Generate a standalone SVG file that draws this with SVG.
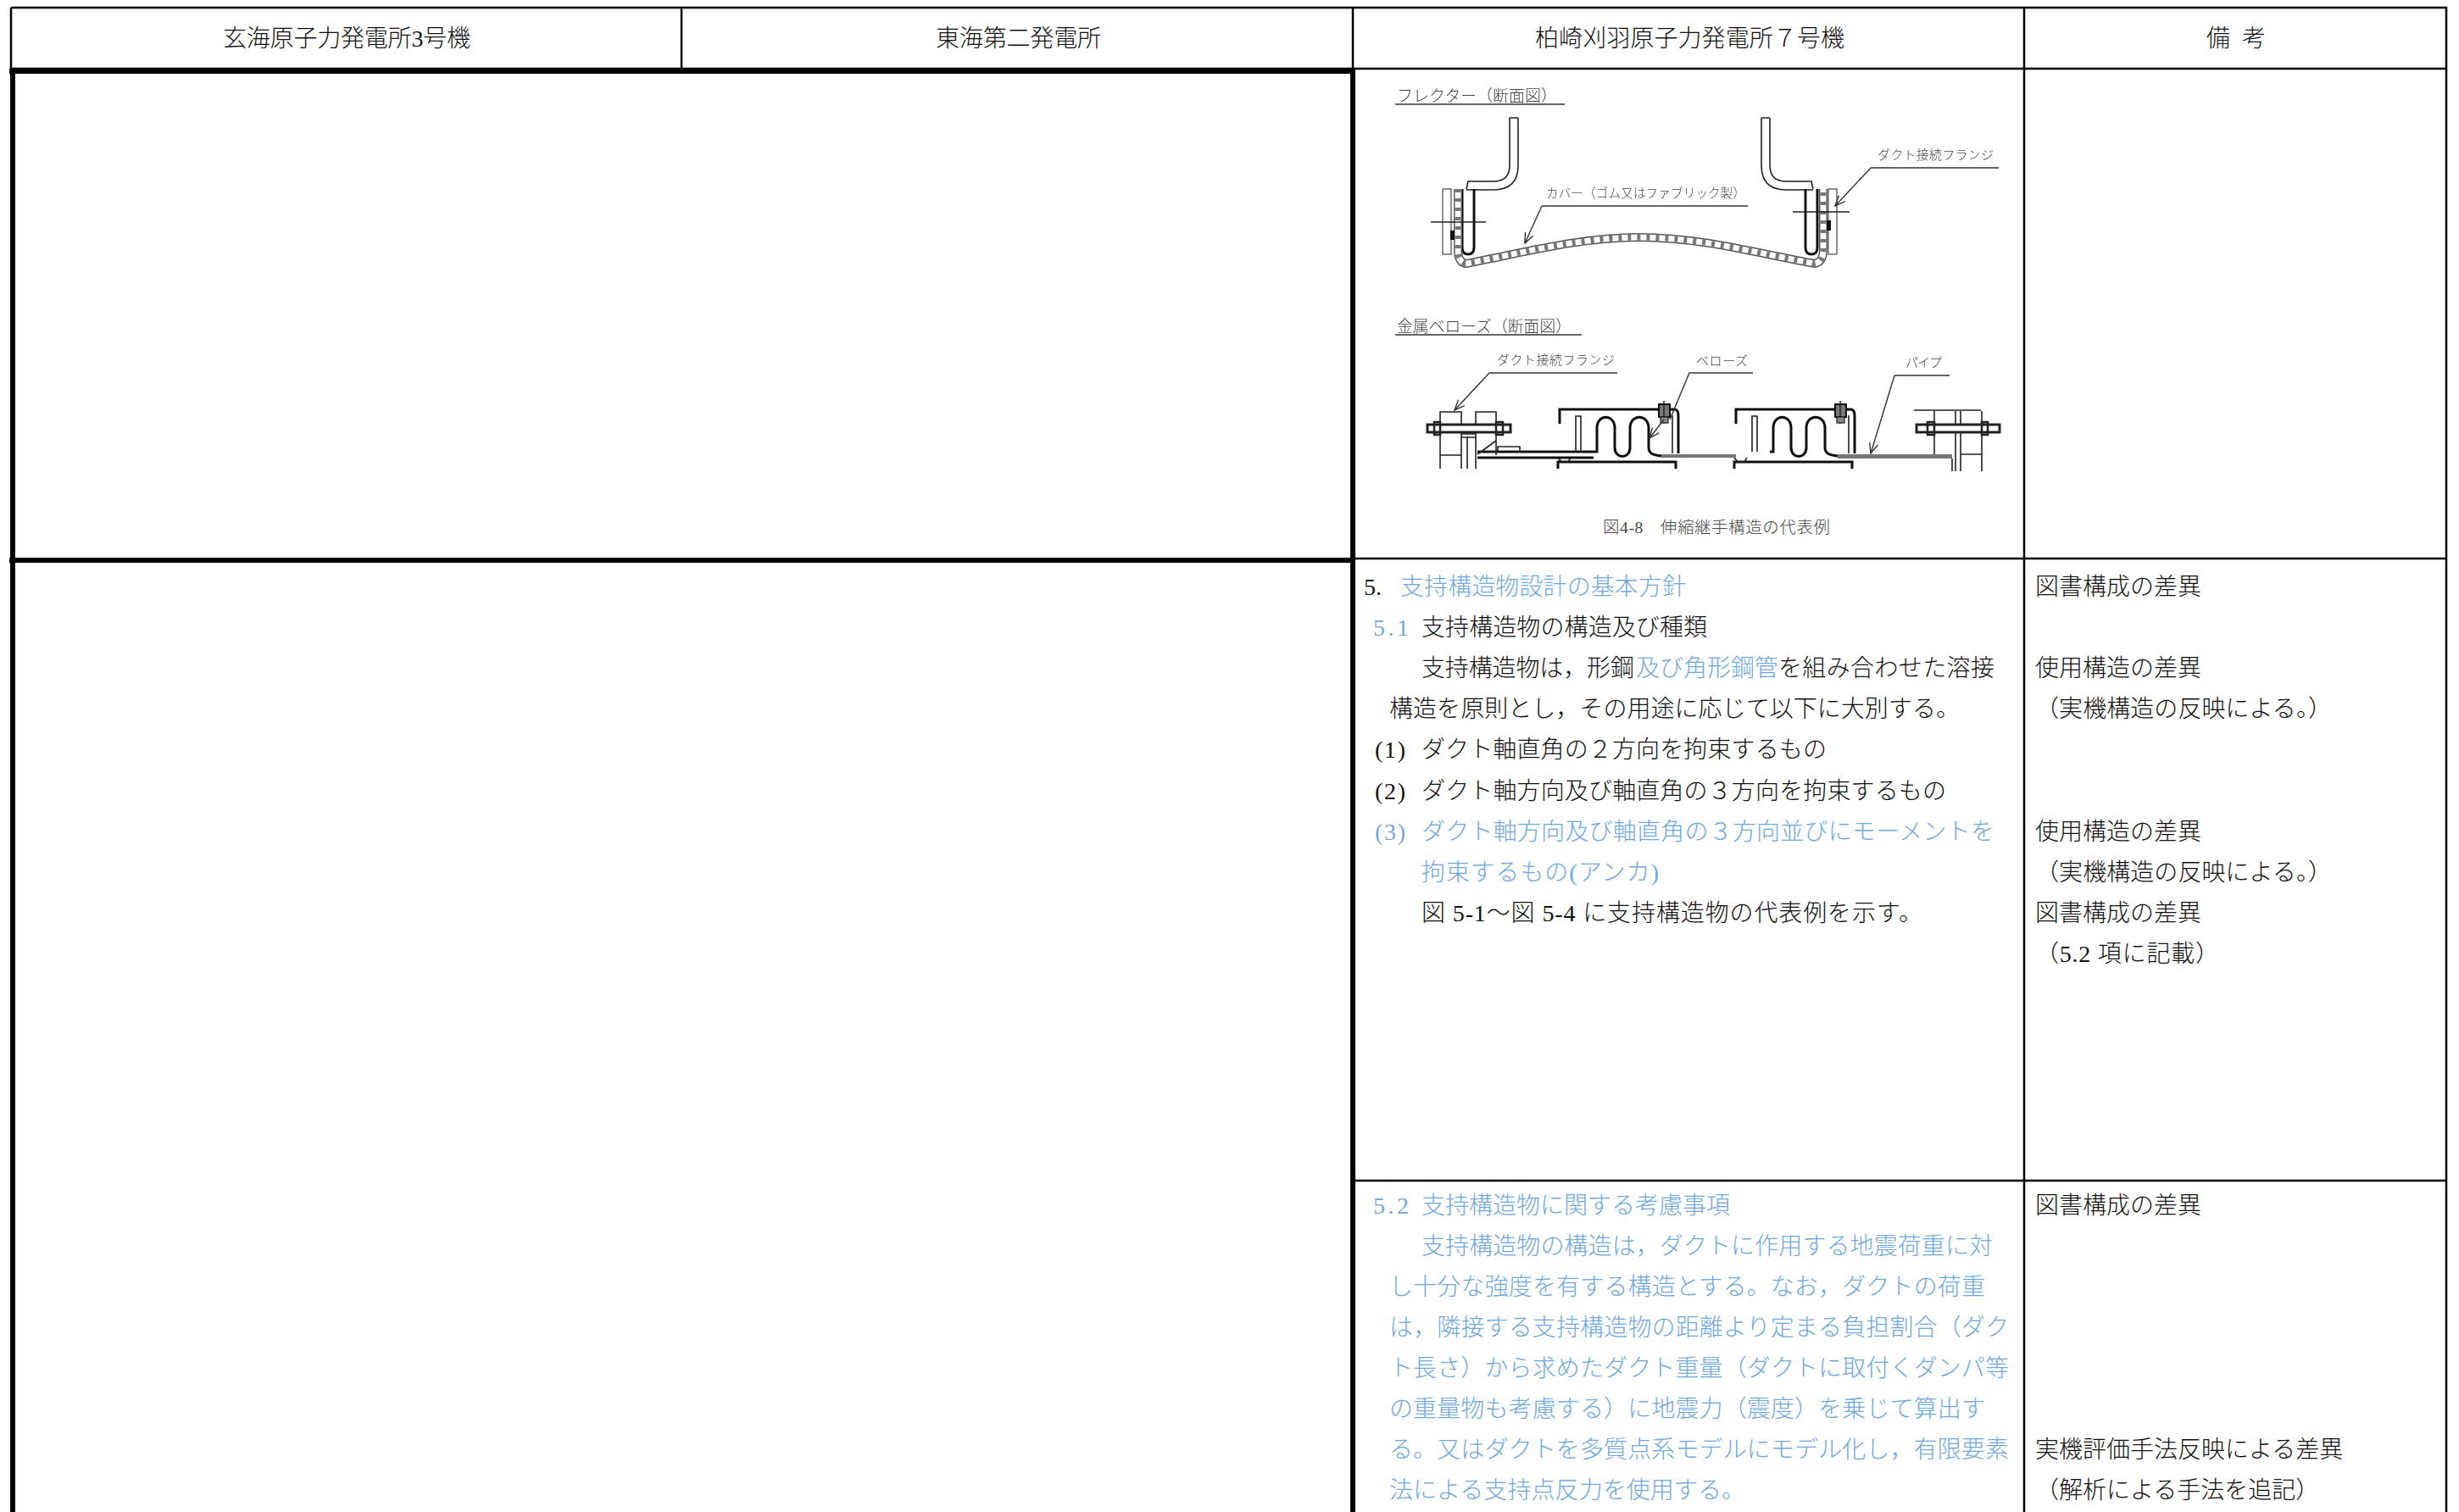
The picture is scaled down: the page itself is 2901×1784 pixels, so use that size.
<svg xmlns="http://www.w3.org/2000/svg" xmlns:xlink="http://www.w3.org/1999/xlink" width="2901" height="1784" viewBox="0 0 2901 1784">
<style>
text{font-family:"Liberation Serif","Noto Sans CJK JP",serif;font-size:28px;font-weight:300;fill:#111}
.b{fill:#6fa8dc}
tspan.b{fill:#6fa8dc}
.s{fill:#444}
.g{fill:none;stroke:#000}
.thin{stroke-width:2.5}
.thick{stroke-width:6}
.d{fill:none;stroke:#222;stroke-width:1.6}
.h{fill:none;stroke:#111;stroke-width:3}
.l{fill:none;stroke:#333;stroke-width:1.4}
.m{fill:none;stroke:#333;stroke-width:1.4;marker-end:url(#a)}
</style>
<defs>
<marker id="a" markerUnits="userSpaceOnUse" markerWidth="14" markerHeight="12" refX="13" refY="6" orient="auto"><path d="M1 1L13 6L1 11" fill="none" stroke="#333" stroke-width="1.4"/></marker>
<filter id="soft" x="-2%" y="-2%" width="104%" height="104%"><feGaussianBlur stdDeviation="0.45"/></filter>
<g id="bellows">
<path class="h" d="M1840 500V483H1975Q1980 483 1980 490V535"/>
<path class="d" d="M1973 490V535M1859 533V491H1865V533"/>
<path class="h" d="M1880 533H1884V505C1884 488 1905 488 1905 505V528C1905 542 1923 542 1923 528V505C1923 488 1945 488 1945 505V528C1945 535 1950 537 1960 538"/>
<path class="h" d="M1838 553V545H1977V553"/>
<path class="d" d="M1838 540L1842 545H1850L1853 540"/>
<rect x="1957" y="477" width="13" height="15" fill="#777" stroke="#111" stroke-width="2"/>
<path d="M1963 473V500" stroke="#222" stroke-width="1.5" fill="none"/>
<rect x="1959" y="492" width="9" height="7" fill="#888" stroke="#222" stroke-width="1.2"/>
</g>
<g id="flector-side">
<path class="d" stroke-width="2" d="M1781 139V195Q1781 214 1762 214H1732L1730 223M1791 139H1781M1791 139V195Q1791 224 1762 224H1730"/>
<path class="h" d="M1725 223V292Q1725 300 1732 300Q1739 300 1739 292V223"/>
<rect x="1702" y="223" width="10" height="77" fill="#fff" stroke="#555" stroke-width="1.3"/>
</g>
</defs>
<rect width="2901" height="1784" fill="#fff"/>

<g id="table" class="g">
<path class="thin" d="M13 9H2886V1784M13 9V84M804 9V81M1596 9V80M2388 9V1784M13 81H2886M1596 659H2886M1596 1393H2886"/>
<path class="thick" d="M11 84H1598M15 81V1784M1596 81V1784M11 661H1598"/>
</g>

<g id="header">
<text x="263" y="55" textLength="292">玄海原子力発電所3号機</text>
<text x="1104" y="55" textLength="195">東海第二発電所</text>
<text x="1811" y="55" textLength="365">柏崎刈羽原子力発電所７号機</text>
<text x="2603" y="55">備</text>
<text x="2645" y="55">考</text>
</g>

<g id="figure-4-8">
<g id="flector" filter="url(#soft)">
<text class="s" x="1648" y="120" style="font-size:19px" textLength="189">フレクター（断面図）</text>
<path class="l" d="M1646 123H1846"/>
<use xlink:href="#flector-side"/>
<use xlink:href="#flector-side" transform="translate(3869,0) scale(-1,1)"/>
<path id="cover" fill="none" stroke="#555" stroke-width="10" d="M1720 223V295Q1720 309 1729 311C1790 300 1860 280 1934 280C2008 280 2078 300 2141 311Q2151 309 2151 295V223"/>
<path fill="none" stroke="#fff" stroke-width="7" d="M1720 223V295Q1720 309 1729 311C1790 300 1860 280 1934 280C2008 280 2078 300 2141 311Q2151 309 2151 295V223"/>
<path fill="none" stroke="#777" stroke-width="7" stroke-dasharray="4 7" d="M1720 223V295Q1720 309 1729 311C1790 300 1860 280 1934 280C2008 280 2078 300 2141 311Q2151 309 2151 295V223"/>
<path class="d" d="M1688 262H1753M2115 250H2182"/>
<rect x="1711" y="272" width="5" height="11" fill="#111"/>
<rect x="2155" y="260" width="5" height="12" fill="#111"/>
<text class="s" x="1824" y="233" style="font-size:14.5px" textLength="235">カバー（ゴム又はファブリック製）</text>
<path class="l" d="M2062 243H1819"/><path class="m" d="M1819 243L1799 287"/>
<text class="s" x="2215" y="188" style="font-size:15px" textLength="137">ダクト接続フランジ</text>
<path class="l" d="M2358 198H2207"/><path class="m" d="M2207 198L2165 243"/>
</g>
<g id="metal-bellows" filter="url(#soft)">
<text class="s" x="1648" y="392" style="font-size:18.8px" textLength="206">金属ベローズ（断面図）</text>
<path class="l" d="M1646 395H1866"/>
<use xlink:href="#bellows"/>
<use xlink:href="#bellows" transform="translate(208,0)"/>
<path class="h" d="M1743 533H1880M1743 540H1880"/>
<rect x="1960" y="536" width="88" height="4" fill="#777"/>
<rect x="2168" y="536" width="135" height="5" fill="#777"/>
<path class="d" stroke-width="2" d="M1699 553V486H1724V553M1741 553V486H1765V537M1699 537H1724M1731 515V553M1741 512H1724V516H1741M1765 520L1743 536M1767 533V527H1793V533"/>
<rect x="1684" y="501" width="98" height="9" fill="#fff" stroke="#222" stroke-width="3"/>
<rect x="1692" y="498" width="7" height="15" fill="none" stroke="#222" stroke-width="2.5"/>
<rect x="1765" y="498" width="8" height="15" fill="none" stroke="#222" stroke-width="2.5"/>
<path class="d" d="M2258 484H2337M2282 485V536M2303 541V556M2307 485V556M2313 485V556M2338 485V556M2313 536H2338"/>
<rect x="2261" y="501" width="98" height="9" fill="#fff" stroke="#222" stroke-width="3"/>
<rect x="2274" y="498" width="8" height="15" fill="none" stroke="#222" stroke-width="2.5"/>
<rect x="2338" y="498" width="7" height="15" fill="none" stroke="#222" stroke-width="2.5"/>
<text class="s" x="1766" y="430" style="font-size:15px" textLength="139">ダクト接続フランジ</text>
<path class="l" d="M1908 440H1757"/><path class="m" d="M1757 440L1716 484"/>
<text class="s" x="2001" y="431" style="font-size:15px" textLength="61">ベローズ</text>
<path class="l" d="M2068 440H1993L1970 495"/><path class="m" d="M1963 495L1946 517"/>
<text class="s" x="2248" y="433" style="font-size:15px" textLength="43">パイプ</text>
<path class="l" d="M2300 443H2235"/><path class="m" d="M2235 443L2207 535"/>
</g>
<text class="s" x="1891" y="629" style="font-size:19.5px" textLength="268">図4-8　伸縮継手構造の代表例</text>
</g>

<g id="section-5-1">
<text x="1609" y="702">5.</text>
<text class="b" x="1652" y="702" textLength="337">支持構造物設計の基本方針</text>
<text class="b" x="1620" y="750" textLength="42">5.1</text>
<text x="1677" y="750" textLength="337">支持構造物の構造及び種類</text>
<text x="1677" y="798" textLength="251">支持構造物は，形鋼</text>
<text class="b" x="1930" y="798" textLength="168">及び角形鋼管</text>
<text x="2098" y="798" textLength="255">を組み合わせた溶接</text>
<text x="1639" y="846" textLength="673">構造を原則とし，その用途に応じて以下に大別する。</text>
<text x="1622" y="894" textLength="36">(1)</text>
<text x="1677" y="894" textLength="478">ダクト軸直角の２方向を拘束するもの</text>
<text x="1622" y="943" textLength="36">(2)</text>
<text x="1677" y="943" textLength="619">ダクト軸方向及び軸直角の３方向を拘束するもの</text>
<text class="b" x="1622" y="991" textLength="36">(3)</text>
<text class="b" x="1677" y="991" textLength="676">ダクト軸方向及び軸直角の３方向並びにモーメントを</text>
<text class="b" x="1677" y="1039" textLength="280">拘束するもの(アンカ)</text>
<text x="1677" y="1087" textLength="591">図 5-1～図 5-4 に支持構造物の代表例を示す。</text>
</g>

<g id="section-5-2" class="blue">
<text class="b" x="1620" y="1432" textLength="42">5.2</text>
<text class="b" x="1677" y="1432" textLength="364">支持構造物に関する考慮事項</text>
<text class="b" x="1677" y="1480" textLength="674">支持構造物の構造は，ダクトに作用する地震荷重に対</text>
<text class="b" x="1639" y="1528" textLength="703">し十分な強度を有する構造とする。なお，ダクトの荷重</text>
<text class="b" x="1639" y="1576" textLength="731">は，隣接する支持構造物の距離より定まる負担割合（ダク</text>
<text class="b" x="1639" y="1624" textLength="731">ト長さ）から求めたダクト重量（ダクトに取付くダンパ等</text>
<text class="b" x="1639" y="1672" textLength="703">の重量物も考慮する）に地震力（震度）を乗じて算出す</text>
<text class="b" x="1639" y="1720" textLength="731">る。又はダクトを多質点系モデルにモデル化し，有限要素</text>
<text class="b" x="1639" y="1768" textLength="420">法による支持点反力を使用する。</text>
</g>

<g id="remarks">
<text x="2401" y="702">図書構成の差異</text>
<text x="2401" y="798">使用構造の差異</text>
<text x="2401" y="846" textLength="350">（実機構造の反映による。）</text>
<text x="2401" y="991">使用構造の差異</text>
<text x="2401" y="1039" textLength="350">（実機構造の反映による。）</text>
<text x="2401" y="1087">図書構成の差異</text>
<text x="2401" y="1135" textLength="217">（5.2 項に記載）</text>
<text x="2401" y="1432">図書構成の差異</text>
<text x="2401" y="1720">実機評価手法反映による差異</text>
<text x="2401" y="1768">（解析による手法を追記）</text>
</g>
</svg>
